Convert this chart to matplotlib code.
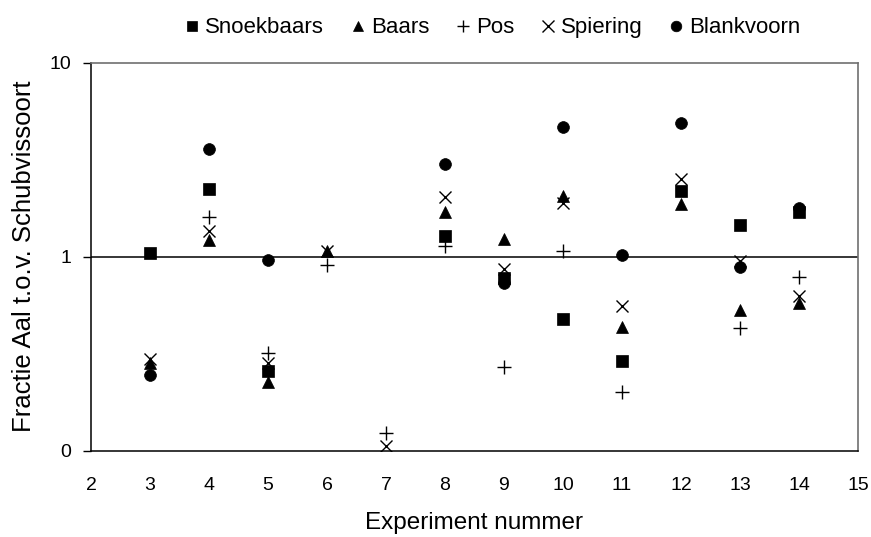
import numpy as np
import matplotlib
matplotlib.use('Agg')
import matplotlib.pyplot as plt
from matplotlib.ticker import FixedLocator, FixedFormatter, NullLocator

plt.rcParams['font.family'] = ['Liberation Sans', 'DejaVu Sans']

nan = np.nan
experiments = [3, 4, 5, 6, 7, 8, 9, 10, 11, 12, 13, 14]
snoekbaars = [1.04, 2.24, 0.258, nan, nan, 1.28, 0.78, 0.476, 0.289, 2.18, 1.45, 1.71]
baars = [0.283, 1.22, 0.227, 1.065, nan, 1.70, 1.24, 2.05, 0.433, 1.86, 0.528, 0.576]
pos = [nan, 1.61, 0.319, 0.91, 0.123, 1.14, 0.271, 1.065, 0.201, nan, 0.428, 0.785]
spiering = [0.297, 1.35, 0.283, 1.07, 0.105, 2.04, 0.867, 1.89, 0.56, 2.52, 0.946, 0.624]
blankvoorn = [0.245, 3.61, 0.96, nan, nan, 3.01, 0.73, 4.68, 1.016, 4.89, 0.885, 1.79]

series = [
    ('Snoekbaars', snoekbaars, 's', 8),
    ('Baars', baars, '^', 8.5),
    ('Pos', pos, '+', 10),
    ('Spiering', spiering, 'x', 9),
    ('Blankvoorn', blankvoorn, 'o', 8.5),
]

fig = plt.figure(figsize=(8.71, 5.37), dpi=100)
ax = fig.add_axes([0.1045, 0.161, 0.8805, 0.722])

ax.axhline(1, color='black', lw=1.1, zorder=1)

handles = []
for name, vals, mk, ms in series:
    h, = ax.plot(experiments, vals, linestyle='none', marker=mk, markersize=ms,
                 color='black', markeredgewidth=1.0 if mk in '+x' else 0.5,
                 label=name, zorder=3)
    handles.append(h)

ax.set_yscale('log')
ax.set_ylim(0.1, 10)
ax.set_xlim(2, 15)
ax.yaxis.set_major_locator(FixedLocator([0.1, 1, 10]))
ax.yaxis.set_major_formatter(FixedFormatter(['0', '1', '10']))
ax.yaxis.set_minor_locator(NullLocator())
ax.set_xticks(range(2, 16))

ax.tick_params(axis='y', direction='out', length=6, width=1, labelsize=14, pad=8)
ax.tick_params(axis='x', length=0, labelsize=14, pad=19)

for s in ['top', 'right']:
    ax.spines[s].set_color('#707070')
    ax.spines[s].set_linewidth(1.2)
for s in ['left', 'bottom']:
    ax.spines[s].set_color('black')
    ax.spines[s].set_linewidth(1.1)

ax.set_xlabel('Experiment nummer', fontsize=17.5, labelpad=13)
ax.set_ylabel('Fractie Aal t.o.v. Schubvissoort', fontsize=18.5, labelpad=10)

leg = fig.legend(handles=handles, loc='center', bbox_to_anchor=(0.566, 0.948), ncol=5,
                 frameon=False, fontsize=16, handlelength=0.6, handletextpad=0.3,
                 columnspacing=1.2, markerscale=0.9)

fig.savefig('out.png', dpi=100)
